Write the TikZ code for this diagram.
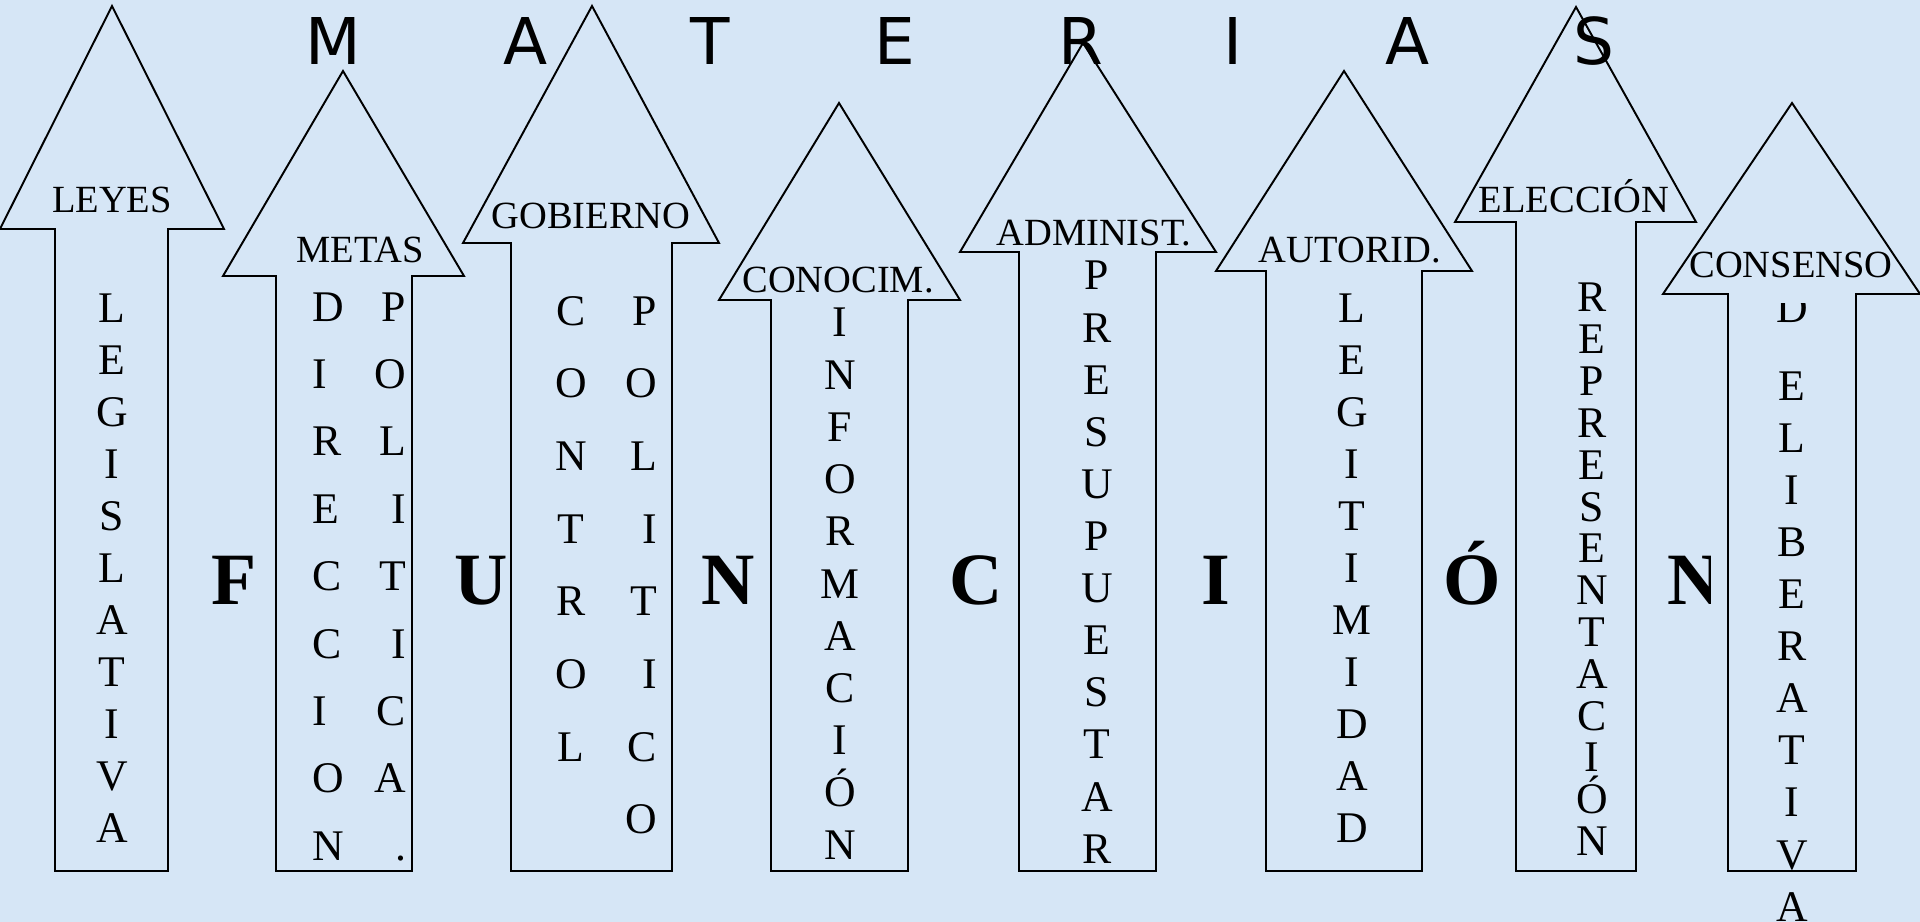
\documentclass[tikz,border=0pt]{standalone}
\usepackage{fontspec}
\setmainfont{Liberation Serif}
\newfontfamily\titlefont{DejaVu Sans}
\definecolor{paper}{RGB}{214,230,246}

\begin{document}
\begin{tikzpicture}[x=0.02cm,y=-0.02cm,line width=1.1pt,
  title/.style={inner sep=0,anchor=base,font=\titlefont\fontsize{36.7}{40}\selectfont},
  head/.style={inner sep=0,anchor=base,font=\fontsize{21.9}{24}\selectfont},
  vletter/.style={inner sep=0,anchor=base,font=\fontsize{24.9}{28}\selectfont},
  big/.style={inner sep=0,anchor=base,font=\bfseries\fontsize{42}{46}\selectfont}]
\useasboundingbox (0,0) rectangle (1920,922);
\fill[paper] (0,0) rectangle (1920,922);

% title across the top
\foreach \c/\x [count=\i] in {M/333,A/526,T/710,E/895,R/1081,I/1233,A/1408,S/1594}
  \node[title] (mat-\i) at (\x,65) {\c};

% the eight arrows
\foreach \tx/\ty/\hl/\hr/\hb/\shl/\shr in {112/6/0/224/229/55/168, 343/71/223/464/276/276/412,
    592/6/463/719/243/511/672, 839/103/719/960/300/771/908, 1083/43/960/1216/252/1019/1156,
    1344/71/1216/1472/271/1266/1422, 1576/7/1455/1696/222/1516/1636, 1792/103/1663/1920/294/1728/1856}
  \draw (\shl,871) -- (\shl,\hb) -- (\hl,\hb) -- (\tx,\ty) -- (\hr,\hb) -- (\shr,\hb) -- (\shr,871) -- cycle;

% labels in the heads
\node[head] (leyes) at (112,213) {LEYES};
\node[head] (metas) at (360,262) {METAS};
\node[head] (gob) at (591,229) {GOBIERNO};
\node[head] (conoc) at (838,293) {CONOCIM.};
\node[head] (admin) at (1094,246) {ADMINIST.};
\node[head] (autor) at (1350,262) {AUTORID.};
\node[head] (elecc) at (1574,213) {ELECCIÓN};
\node[head] (conse) at (1791,277) {CONSENSO};

% words down the shafts
\foreach \c [count=\i from 0] in {L,E,G,I,S,L,A,T,I,V,A}
  \node[vletter] (legis-\i) at (112,{322+52*\i}) {\c};
\foreach \c [count=\i from 0] in {D,I,R,E,C,C,I,O,N}
  \node[vletter,anchor=base west] (direc-\i) at (312,{321+67.4*\i}) {\c};
\foreach \c [count=\i from 0] in {P,O,L,I,T,I,C,A,{.}}
  \node[vletter,anchor=base east] (polit-\i) at (407,{321+67.4*\i}) {\c};
\foreach \c [count=\i from 0] in {C,O,N,T,R,O,L}
  \node[vletter] (contr-\i) at (571,{325+72.7*\i}) {\c};
\foreach \c [count=\i from 0] in {P,O,L,I,T,I,C,O}
  \node[vletter,anchor=base east] (politico-\i) at (658,{325+72.7*\i}) {\c};
\foreach \c [count=\i from 0] in {I,N,F,O,R,M,A,C,I,Ó,N}
  \node[vletter] (infor-\i) at (840,{337+52.2*\i}) {\c};
\foreach \c [count=\i from 0] in {P,R,E,S,U,P,U,E,S,T,A,R}
  \node[vletter] (presu-\i) at (1097,{290+52.1*\i}) {\c};
\foreach \c [count=\i from 0] in {L,E,G,I,T,I,M,I,D,A,D}
  \node[vletter] (legit-\i) at (1352,{322+52*\i}) {\c};
\foreach \c [count=\i from 0] in {R,E,P,R,E,S,E,N,T,A,C,I,Ó,N}
  \node[vletter] (repre-\i) at (1592,{312+41.8*\i}) {\c};
\begin{scope}
  \clip (1700,303) rectangle (1880,340);
  \node[vletter] (delib-0) at (1792,322) {D};
\end{scope}
\foreach \c [count=\i from 1] in {E,L,I,B,E,R,A,T,I,V,A}
  \node[vletter] (delib-\i) at (1792,{348+52.1*\i}) {\c};

% FUNCIÓN between the arrows
\foreach \c/\x [count=\i] in {F/234,U/481,N/728,C/976,I/1216,Ó/1472}
  \node[big] (func-\i) at (\x,604) {\c};
\begin{scope}
  \clip (1600,500) rectangle (1710,650);
  \node[big] (func-7) at (1694,604) {N};
\end{scope}
\end{tikzpicture}
\end{document}
